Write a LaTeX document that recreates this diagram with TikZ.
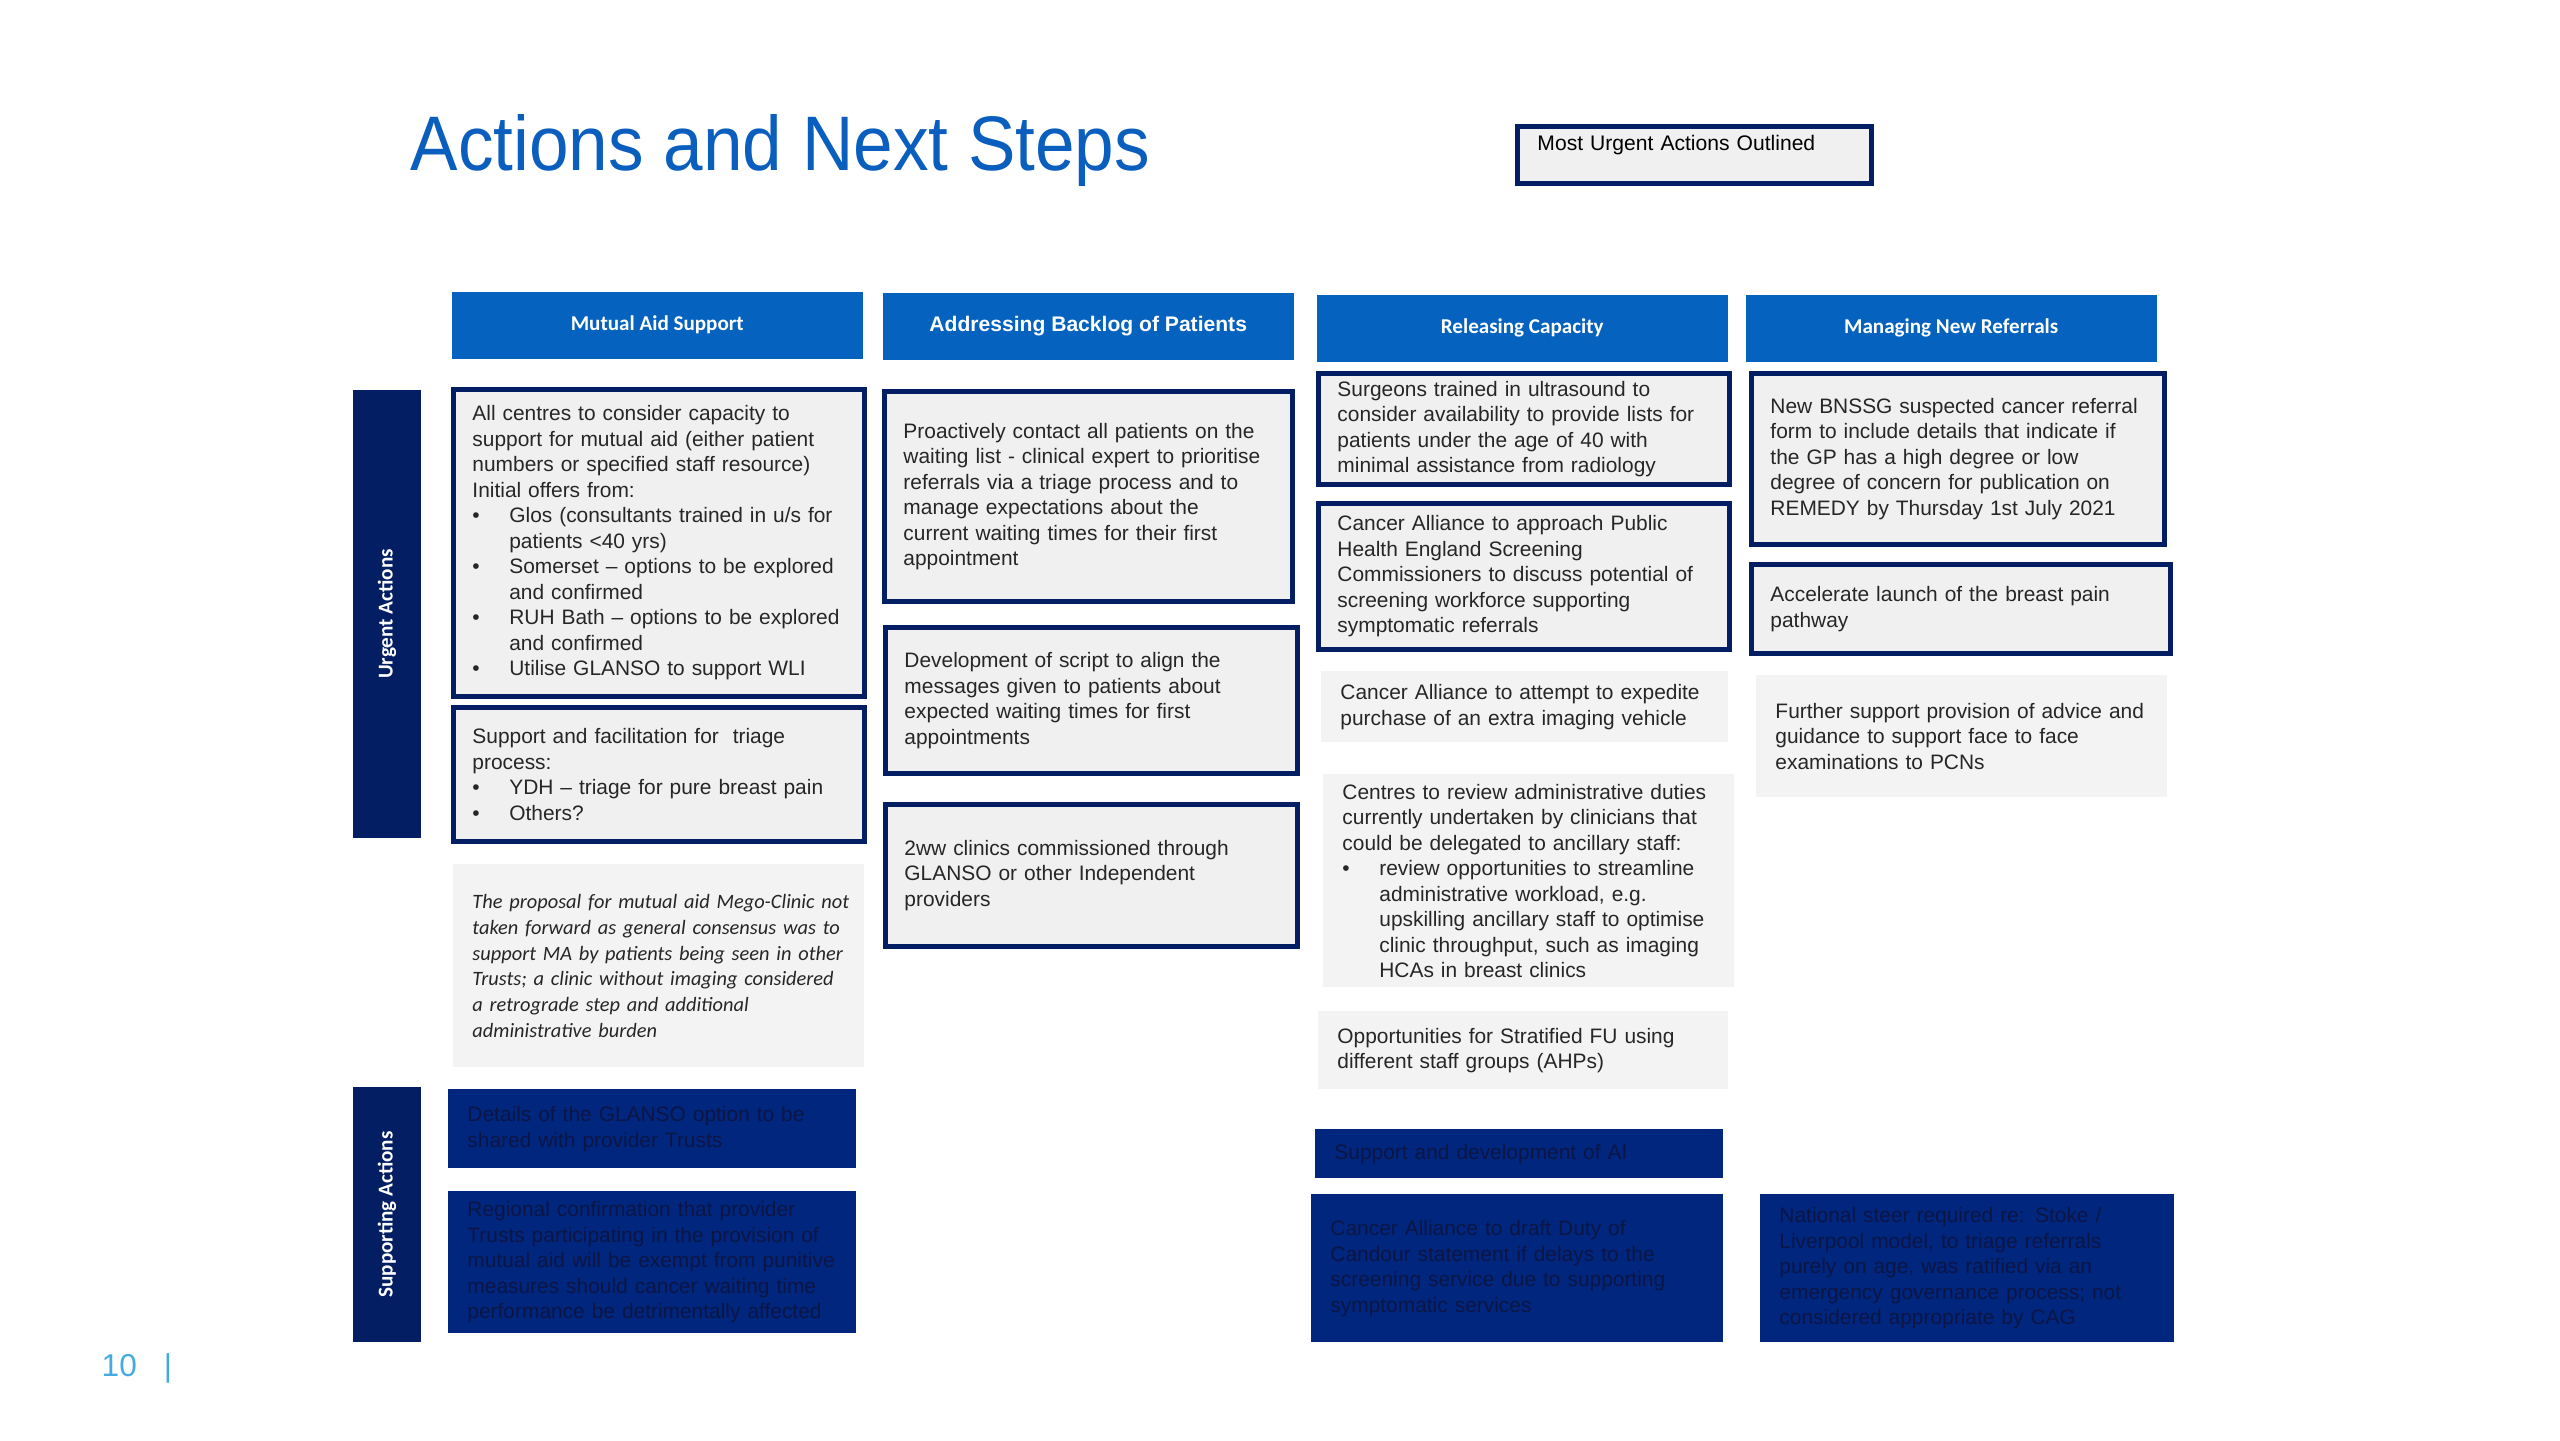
\documentclass[tikz,border=0pt]{standalone}
\usepackage{fontspec}
\setmainfont{Liberation Sans}
\newfontfamily\carl{Carlito}
\newfontfamily\titlefont[FakeStretch=0.92]{Liberation Sans}
\hyphenpenalty=10000
\exhyphenpenalty=10000

\definecolor{titleblue}{RGB}{10,95,190}
\definecolor{headblue}{RGB}{5,98,190}
\definecolor{edgenavy}{RGB}{3,30,98}
\definecolor{panelnavy}{RGB}{0,38,125}
\definecolor{inkdark}{RGB}{12,22,70}
\definecolor{inkgrey}{RGB}{38,38,38}
\definecolor{cardgrey}{RGB}{240,240,240}
\definecolor{notegrey}{RGB}{243,243,243}
\definecolor{pageblue}{RGB}{70,170,225}

\newcommand{\bpt}[1]{\par\hangindent=10.5pt\hangafter=1\noindent\makebox[10.5pt][l]{\textbullet}#1}

\tikzset{
  sz/.code 2 args={\pgfmathsetmacro\tw{#1-0.2}\tikzset{minimum width=#1cm, minimum height=#2cm, text width=\tw cm}},
  card/.style={draw=edgenavy, line width=1.4pt, fill=cardgrey, anchor=north west, inner xsep=0.1cm, inner ysep=0pt,
    align=left, text=inkgrey, font=\fontsize{5.95}{7.25}\selectfont, execute at begin node={\leftskip=0.09cm}},
  plain/.style={card, draw=none, fill=notegrey},
  darkcard/.style={card, draw=none, fill=panelnavy, text=inkdark},
  head/.style={fill=headblue, anchor=north west, text=white, inner sep=0pt, minimum width=4.11cm, minimum height=0.67cm,
    font=\carl\bfseries\fontsize{6}{7}\selectfont},
  sidebar/.style={fill=edgenavy, text=white, rotate=90, inner sep=0pt, minimum height=0.68cm,
    font=\carl\bfseries\fontsize{6}{7}\selectfont},
}

\begin{document}
\begin{tikzpicture}[x=1cm,y=-1cm]
\useasboundingbox (0,0) rectangle (25.6,14.4);

\node[anchor=base west, inner sep=0pt, text=titleblue, font=\titlefont\fontsize{22}{26}\selectfont] (title) at (4.10,1.70) {Actions and Next Steps};
\node[draw=edgenavy, line width=1.4pt, fill=cardgrey, anchor=north west, minimum width=3.54cm, text width=3.14cm, align=left,
  inner xsep=0.2cm, inner ysep=0.08cm, text height=0.16cm, text depth=0.25cm, font=\fontsize{6}{7}\selectfont] (key) at (15.15,1.24) {Most Urgent Actions Outlined};

% column heads
\node[head] (headA) at (4.51,2.91) {Mutual Aid Support};
\node[head, font=\bfseries\fontsize{6}{7}\selectfont] (headB) at (8.82,2.92) {Addressing Backlog of Patients};
\node[head] (headC) at (13.16,2.94) {Releasing Capacity};
\node[head] (headM) at (17.45,2.94) {Managing New Referrals};

\node[sidebar, minimum width=4.48cm] (urgent) at (3.87,6.14) {Urgent Actions};
\node[sidebar, minimum width=2.55cm] (support) at (3.87,12.145) {Supporting Actions};

% mutual aid
\node[card, sz={4.11}{3.07}] (A1) at (4.51,3.87) {All centres to consider capacity to\newline
  support for mutual aid (either patient\newline numbers or specified staff resource)\newline Initial offers from:
  \bpt{Glos (consultants trained in u/s for\newline patients <40 yrs)}
  \bpt{Somerset -- options to be explored\newline and confirmed}
  \bpt{RUH Bath -- options to be explored\newline and confirmed}
  \bpt{Utilise GLANSO to support WLI}\par};
\node[card, sz={4.11}{1.34}] (A2) at (4.51,7.05) {Support and facilitation for \ triage\newline process:
  \bpt{YDH -- triage for pure breast pain}
  \bpt{Others?}\par};
\node[plain, sz={4.11}{2.03}, font=\carl\itshape\fontsize{5.8}{7.3}\selectfont] (A3) at (4.51,8.62) {The proposal for mutual aid Mego-Clinic not\\
  taken forward as general consensus was to\\ support MA by patients being seen in other\\
  Trusts; a clinic without imaging considered\\ a retrograde step and additional\\ administrative burden};
\node[darkcard, sz={4.08}{0.79}] (D1) at (4.46,10.87) {Details of the GLANSO option to be\\ shared with provider Trusts};
\node[darkcard, sz={4.08}{1.42}] (D2) at (4.46,11.89) {Regional confirmation that provider\\ Trusts participating in the provision of\\
  mutual aid will be exempt from punitive\\ measures should cancer waiting time\\ performance be detrimentally affected};

% backlog
\node[card, sz={4.08}{2.10}] (B1) at (8.82,3.89) {Proactively contact all patients on the\\ waiting list - clinical expert to prioritise\\
  referrals via a triage process and to\\ manage expectations about the\\ current waiting times for their first\\ appointment};
\node[card, sz={4.12}{1.46}] (B2) at (8.83,6.25) {Development of script to align the\\ messages given to patients about\\
  expected waiting times for first\\ appointments};
\node[card, sz={4.12}{1.42}] (B3) at (8.83,8.02) {2ww clinics commissioned through\\ GLANSO or other Independent\\ providers};

% capacity
\node[card, sz={4.11}{1.11}] (C1) at (13.16,3.71) {Surgeons trained in ultrasound to\\ consider availability to provide lists for\\
  patients under the age of 40 with\\ minimal assistance from radiology};
\node[card, sz={4.11}{1.46}] (C2) at (13.16,5.01) {Cancer Alliance to approach Public\\ Health England Screening\\
  Commissioners to discuss potential of\\ screening workforce supporting\\ symptomatic referrals};
\node[plain, sz={4.07}{0.71}] (C3) at (13.19,6.69) {Cancer Alliance to attempt to expedite\\ purchase of an extra imaging vehicle};
\node[plain, sz={4.11}{2.13}] (C4) at (13.21,7.72) {Centres to review administrative duties\newline
  currently undertaken by clinicians that\newline could be delegated to ancillary staff:
  \bpt{review opportunities to streamline\newline administrative workload, e.g.\newline
  upskilling ancillary staff to optimise\newline clinic throughput, such as imaging\newline HCAs in breast clinics}\par};
\node[plain, sz={4.10}{0.78}] (C5) at (13.16,10.09) {Opportunities for Stratified FU using\\ different staff groups (AHPs)};
\node[darkcard, sz={4.08}{0.49}] (C6) at (13.13,11.27) {Support and development of AI};
\node[darkcard, sz={4.12}{1.48}] (C7) at (13.09,11.92) {Cancer Alliance to draft Duty of\\ Candour statement if delays to the\\
  screening service due to supporting\\ symptomatic services};

% referrals
\node[card, sz={4.13}{1.71}] (M1) at (17.49,3.71) {New BNSSG suspected cancer referral\\ form to include details that indicate if\\
  the GP has a high degree or low\\ degree of concern for publication on\\ REMEDY by Thursday 1st July 2021};
\node[card, sz={4.19}{0.89}] (M2) at (17.49,5.62) {Accelerate launch of the breast pain\\ pathway};
\node[plain, sz={4.11}{1.22}] (M3) at (17.54,6.73) {Further support provision of advice and\\ guidance to support face to face\\ examinations to PCNs};
\node[darkcard, sz={4.14}{1.48}] (M4) at (17.58,11.92) {National steer required re: Stoke /\\ Liverpool model, to triage referrals\\
  purely on age, was ratified via an\\ emergency governance process; not\\ considered appropriate by CAG};

\node[anchor=west, inner sep=0pt, text=pageblue, font=\fontsize{9}{10}\selectfont] (pgno) at (1.01,13.68) {10\hspace{0.27cm}|};
\end{tikzpicture}
\end{document}
